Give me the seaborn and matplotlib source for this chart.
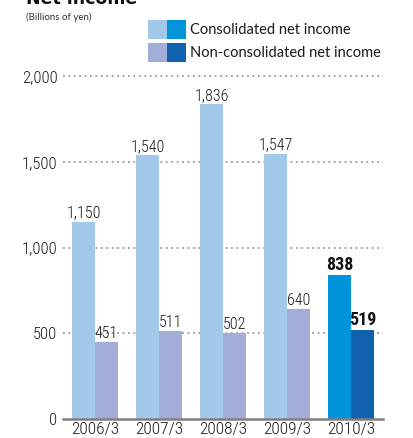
import matplotlib
matplotlib.use("Agg")
import matplotlib.pyplot as plt
import seaborn as sns
import pandas as pd
from matplotlib.patches import Rectangle

years = ["2006/3", "2007/3", "2008/3", "2009/3", "2010/3"]
consolidated = [1150, 1540, 1836, 1547, 838]
non_consolidated = [451, 511, 502, 640, 519]
series_names = ["Consolidated net income", "Non-consolidated net income"]
y_ticks = [0, 500, 1000, 1500, 2000]
y_tick_labels = ["0", "500", "1,000", "1,500", "2,000"]

light_colors = ["#A3C9EA", "#A3AED7"]
dark_colors = ["#0095DA", "#1162AE"]

df = pd.DataFrame({
    "year": years * 2,
    "series": [series_names[0]] * len(years) + [series_names[1]] * len(years),
    "value": consolidated + non_consolidated,
})

sns.set_style("white")
W, H = 414, 438
fig = plt.figure(figsize=(W / 100, H / 100), dpi=100)
ax = fig.add_axes([63 / W, (H - 419) / H, (383 - 63) / W, (419 - 76) / H])

sns.barplot(data=df, x="year", y="value", hue="series", order=years,
            hue_order=series_names, palette=light_colors, width=0.72,
            saturation=1, ax=ax, legend=False, zorder=2)

n = len(years)
for i, p in enumerate(ax.patches[:2 * n]):
    s, k = divmod(i, n)
    if k == n - 1:
        p.set_facecolor(dark_colors[s])
    p.set_edgecolor("none")

ax.set_xlim(-0.5, n - 0.5)
ax.set_ylim(0, 2000)
ax.set_yticks(y_ticks)
ax.set_yticklabels(y_tick_labels)
ax.set_xlabel("")
ax.set_ylabel("")

cond = "Roboto Condensed"
for lab in ax.get_yticklabels():
    lab.set_fontfamily(cond)
    lab.set_fontsize(12)
    lab.set_fontweight("light")
    lab.set_color("#1A1A1A")
for lab in ax.get_xticklabels():
    lab.set_fontfamily(cond)
    lab.set_fontsize(12.5)
    lab.set_fontweight("light")
    lab.set_color("#1A1A1A")
ax.tick_params(axis="y", length=0, pad=4)
ax.tick_params(axis="x", length=0, pad=2.5)

for y in y_ticks[1:]:
    ax.axhline(y, color="#9A9A9A", lw=1.3, ls=(0, (1, 2)), zorder=1, clip_on=False)

for sp in ["top", "right", "left"]:
    ax.spines[sp].set_visible(False)
ax.spines["bottom"].set_color("#7F7F7F")
ax.spines["bottom"].set_linewidth(1.8)
ax.spines["bottom"].set_zorder(3)

for i, p in enumerate(ax.patches[:2 * n]):
    s, k = divmod(i, n)
    v = (consolidated if s == 0 else non_consolidated)[k]
    cx = p.get_x() + p.get_width() / 2
    if k == n - 1:
        ax.text(cx, v + 32, f"{v:,}", ha="center", va="baseline", family=cond,
                fontsize=13, fontweight="bold", color="#111111")
    else:
        ax.text(cx, v + 24, f"{v:,}", ha="center", va="baseline", family=cond,
                fontsize=11.5, fontweight="light", color="#1A1A1A")

fig.text(26 / W, 1 - 4 / H, "Net income", ha="left", va="baseline",
         fontsize=12.5, fontweight="bold", color="#111111")
fig.text(26 / W, 1 - 20 / H, "(Billions of yen)", ha="left", va="baseline",
         fontsize=7, color="#333333", family="Lato")

rows = [(20, 39), (43, 62)]
for (top, bot), lc, dc, name in zip(rows, light_colors, dark_colors, series_names):
    fig.patches.append(Rectangle((148 / W, 1 - bot / H), 19 / W, (bot - top) / H,
                                 transform=fig.transFigure, facecolor=lc, edgecolor="none"))
    fig.patches.append(Rectangle((167 / W, 1 - bot / H), 19 / W, (bot - top) / H,
                                 transform=fig.transFigure, facecolor=dc, edgecolor="none"))
    fig.text(190 / W, 1 - ((top + bot) / 2 + 0.5) / H, name, ha="left", va="center",
             family="Lato", fontsize=10.5, color="#1A1A1A")

fig.savefig("out.png", dpi=100)
